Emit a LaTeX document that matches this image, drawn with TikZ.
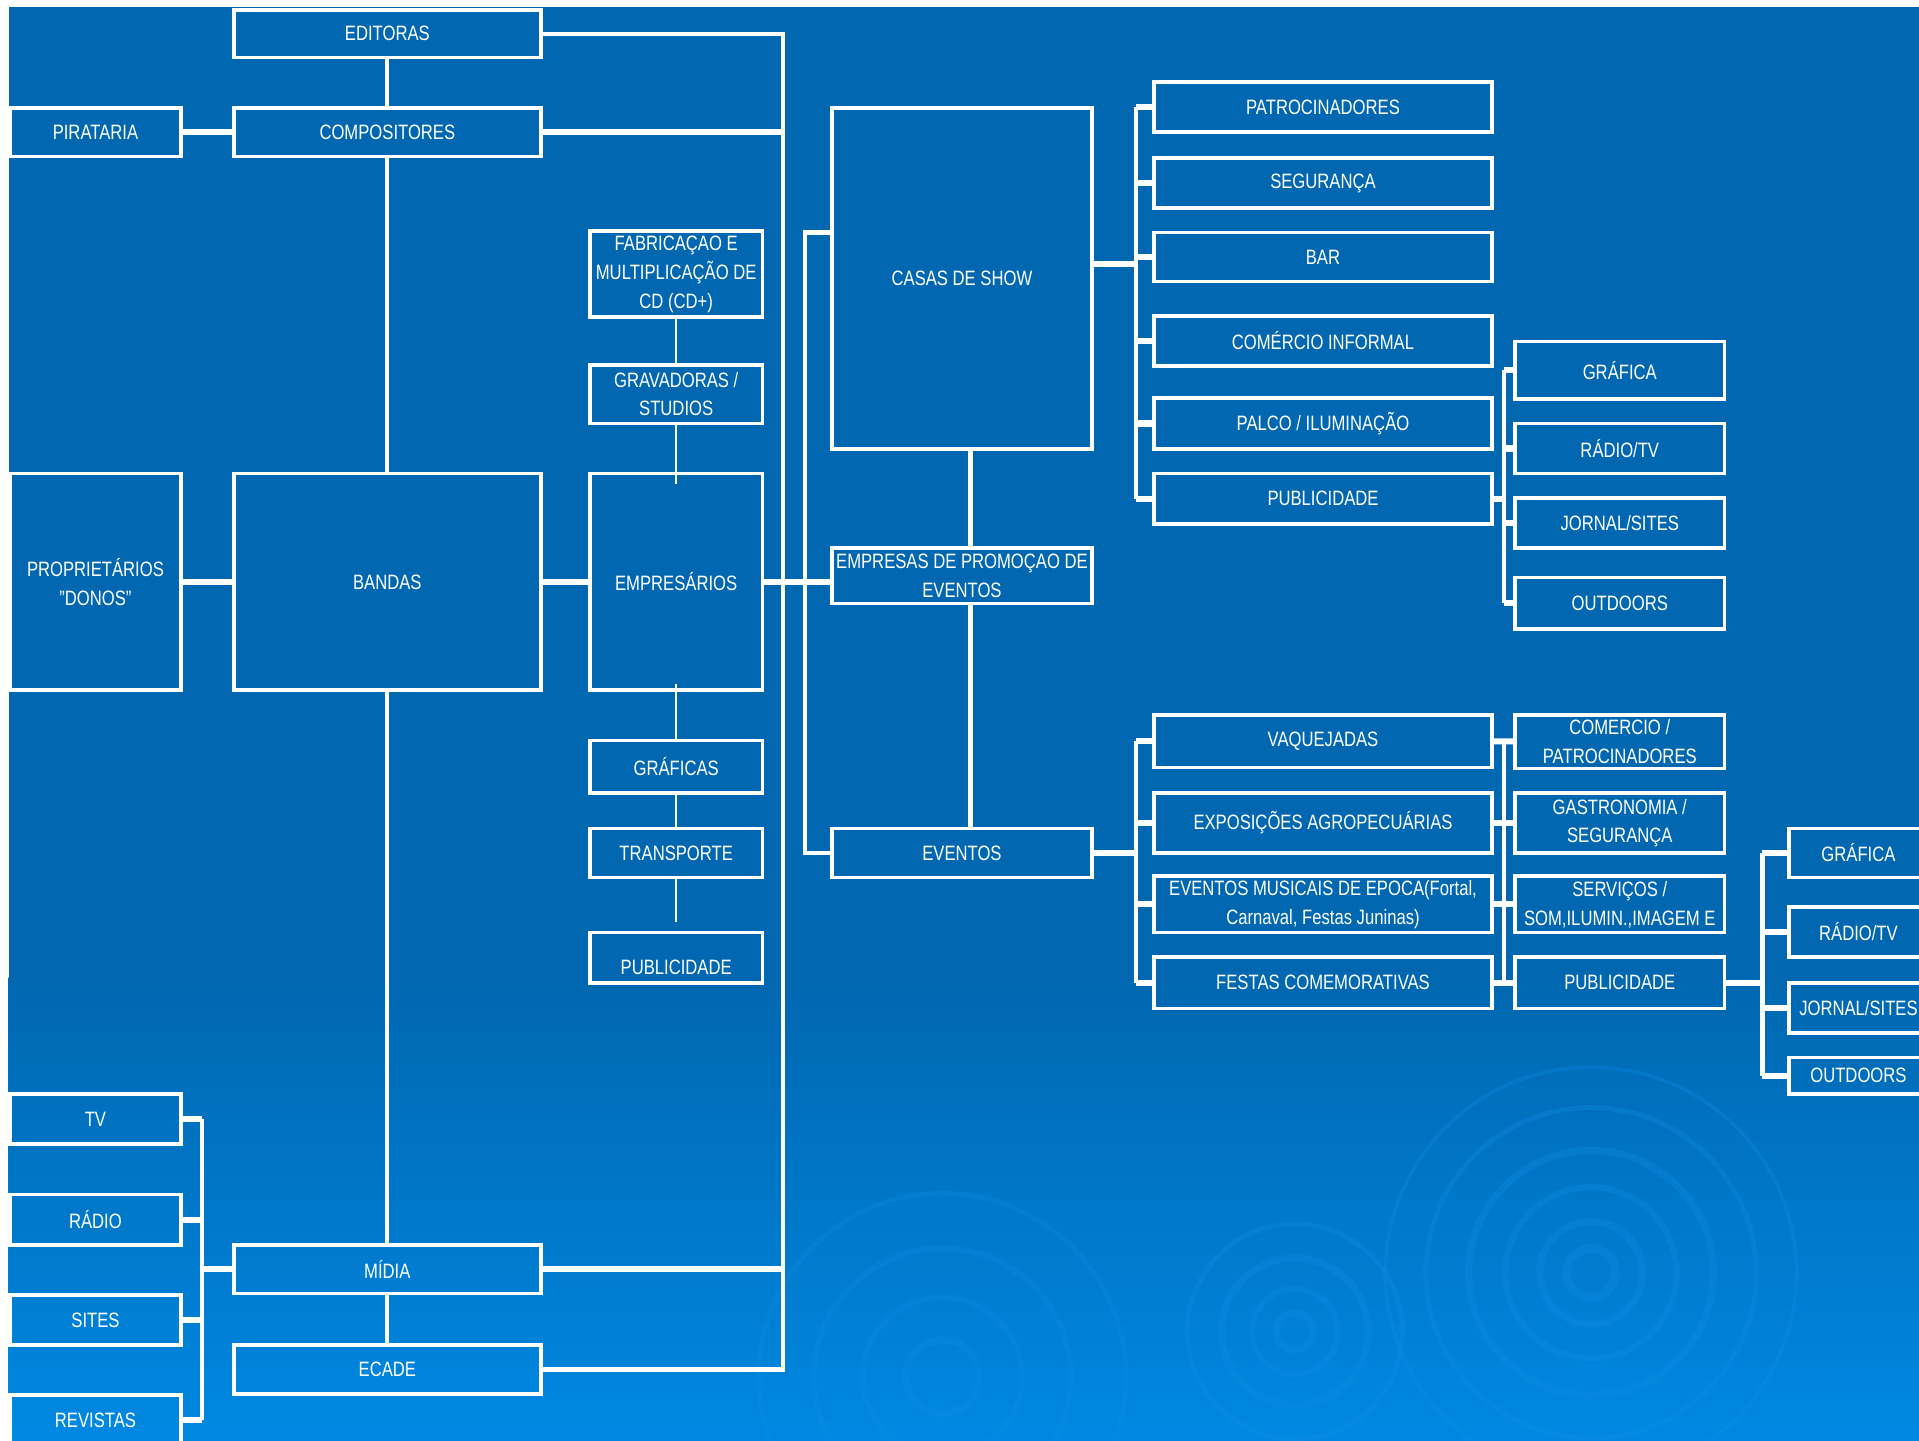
\documentclass[tikz,border=0pt]{standalone}
\usepackage{fontspec}
\setmainfont[FakeStretch=0.8]{Liberation Sans}
\usetikzlibrary{positioning,calc}
\definecolor{fundo}{RGB}{0,103,176}
\definecolor{fundoclaro}{RGB}{0,136,226}
\definecolor{onda}{RGB}{18,142,232}
\tikzset{
  caixa/.style={draw=white, line width=3pt, inner sep=0pt, align=center,
    text=white, font=\fontsize{17}{23.5}\selectfont},
  tam/.style 2 args={minimum width=#1pt, minimum height=#2pt},
  liga/.style={white, line width=3.5pt},
  ligah/.style={white, line width=5pt},
  fina/.style={white, line width=1.8pt},
}
\begin{document}
\begin{tikzpicture}[x=1pt,y=-1pt]
%
% fundo
\useasboundingbox (0,0) rectangle (1568,1177);
\fill[white] (0,0) rectangle (1568,1177);
\fill[fundo] (7,6) rectangle (1568,800);
\shade[top color=fundo, bottom color=fundoclaro] (7,799) rectangle (1568,1177);
\foreach \r/\w in {20/7,42/6,70/5,100/6,135/4,168/3}
  \draw[onda, line width=\w pt, opacity=0.3] (1300,1040) circle (\r);
\foreach \r/\w in {15/6,35/5,60/6,88/4}
  \draw[onda, line width=\w pt, opacity=0.3] (1058,1088) circle (\r);
\foreach \r/\w in {30/6,65/5,105/5,150/4}
  \draw[onda, line width=\w pt, opacity=0.25] (770,1125) circle (\r);
%
% coluna da esquerda
\node[caixa,tam={140}{40}] (pirataria) at (78,108) {PIRATARIA};
\node[caixa,tam={140}{177}] (donos) at (78,475.5) {PROPRIETÁRIOS\\"DONOS"};
\node[caixa,tam={140}{41}] (tv) at (78,914.5) {TV};
\node[caixa,tam={140}{41}] (radio) at (78,996.5) {RÁDIO};
\node[caixa,tam={140}{41}] (sites) at (78,1078.5) {SITES};
\node[caixa,tam={140}{41}] (revistas) at (78,1160.5) {REVISTAS};
%
\node[caixa,tam={251}{39}] (editoras) at (316.5,27.5) {EDITORAS};
\node[caixa,tam={251}{40}] (compositores) at (316.5,108) {COMPOSITORES};
\node[caixa,tam={251}{177}] (bandas) at (316.5,475.5) {BANDAS};
\node[caixa,tam={251}{40}] (midia) at (316.5,1037) {MÍDIA};
\node[caixa,tam={251}{40}] (ecade) at (316.5,1119) {ECADE};
%
\node[caixa,tam={141}{70}] (fabricacao) at (552.5,224) {FABRICAÇAO E\\MULTIPLICAÇÃO DE\\CD (CD+)};
\node[caixa,tam={141}{48}] (gravadoras) at (552.5,322) {GRAVADORAS /\\STUDIOS};
\node[caixa,tam={141}{177}] (empresarios) at (552.5,475.5) {EMPRESÁRIOS};
\node[caixa,tam={141}{43}] (graficas) at (552.5,626.5) {GRÁFICAS};
\node[caixa,tam={141}{40}] (transporte) at (552.5,697) {TRANSPORTE};
\node[caixa,tam={141}{41}] (publicidadea) at (552.5,782.5) {\raisebox{-13.5pt}[0pt][0pt]{PUBLICIDADE}};
%
% meio
\node[caixa,tam={212}{279}] (casas) at (786,227.5) {CASAS DE SHOW};
\node[caixa,tam={212}{45}] (empresas) at (786,470.5) {EMPRESAS DE PROMOÇAO DE\\EVENTOS};
\node[caixa,tam={212}{40}] (eventos) at (786,697) {EVENTOS};
%
% casas de show
\node[caixa,tam={276}{41}] (patrocinadores) at (1081,87.5) {PATROCINADORES};
\node[caixa,tam={276}{41}] (seguranca) at (1081,149.5) {SEGURANÇA};
\node[caixa,tam={276}{40}] (bar) at (1081,210) {BAR};
\node[caixa,tam={276}{41}] (comercio) at (1081,278.5) {COMÉRCIO INFORMAL};
\node[caixa,tam={276}{42}] (palco) at (1081,346) {PALCO / ILUMINAÇÃO};
\node[caixa,tam={276}{41}] (publicidadeb) at (1081,407.5) {PUBLICIDADE};
%
\node[caixa,tam={171}{47}] (graficaa) at (1323.5,302.5) {GRÁFICA};
\node[caixa,tam={171}{41}] (radiotva) at (1323.5,366.5) {RÁDIO/TV};
\node[caixa,tam={171}{41}] (jornala) at (1323.5,427.5) {JORNAL/SITES};
\node[caixa,tam={171}{42}] (outdoorsa) at (1323.5,493) {OUTDOORS};
%
% eventos
\node[caixa,tam={276}{43}] (vaquejadas) at (1081,605.5) {VAQUEJADAS};
\node[caixa,tam={276}{49}] (exposicoes) at (1081,672.5) {EXPOSIÇÕES AGROPECUÁRIAS};
\node[caixa,tam={276}{46}] (musicais) at (1081,739) {EVENTOS MUSICAIS DE EPOCA(Fortal,\\Carnaval, Festas Juninas)};
\node[caixa,tam={276}{42}] (festas) at (1081,803) {FESTAS COMEMORATIVAS};
%
\node[caixa,tam={171}{44}] (comerciob) at (1323.5,606) {COMERCIO /\\PATROCINADORES};
\node[caixa,tam={171}{49}] (gastronomia) at (1323.5,672.5) {GASTRONOMIA /\\SEGURANÇA};
\node[caixa,tam={171}{46}] (servicos) at (1323.5,739) {SERVIÇOS /\\SOM,ILUMIN.,IMAGEM E};
\node[caixa,tam={171}{42}] (publicidadec) at (1323.5,803) {PUBLICIDADE};
%
\node[caixa,tam={113}{40}] (graficab) at (1518.5,697) {GRÁFICA};
\node[caixa,tam={113}{41}] (radiotvb) at (1518.5,761.5) {RÁDIO/TV};
\node[caixa,tam={113}{41}] (jornalb) at (1518.5,823.5) {JORNAL/SITES};
\node[caixa,tam={113}{30}] (outdoorsb) at (1518.5,879) {OUTDOORS};
%
% barras
\coordinate (barra) at (640,0);
\coordinate (barrab) at (658,190);
\coordinate (barrac) at (928,0);
\coordinate (barrad) at (1229,0);
\coordinate (barrae) at (1440,0);
\coordinate (barraf) at (165,0);
%
% ligacoes da esquerda
\draw[liga] (editoras) to (compositores);
\draw[liga] (compositores) to (bandas);
\draw[liga] (bandas) to (midia);
\draw[liga] (midia) to (ecade);
\draw[ligah] (pirataria) to (compositores);
\draw[ligah] (donos) to (bandas);
\draw[ligah] (bandas) to (empresarios);
\draw[liga] (editoras.east) -| (barra |- ecade.east) -- (ecade.east);
\draw[ligah] (compositores.east) -- (compositores.east -| barra);
\draw[ligah] (midia.east) -- (midia.east -| barra);
%
\draw[liga] (tv.east -| barraf) -- (revistas.east -| barraf);
\foreach \n in {tv,radio,sites,revistas}
  \draw[ligah] (\n.east) -- (\n.east -| barraf);
\draw[ligah] (midia.west) -- (midia.west -| barraf);
%
\draw[fina] (fabricacao) to (gravadoras);
\draw[fina] (gravadoras.south) -- ([yshift=-10pt]empresarios.north);
\draw[fina] ([yshift=7pt]empresarios.south) -- (graficas.north);
\draw[fina] (graficas) to (transporte);
\draw[fina] (transporte.south) -- ([yshift=7pt]publicidadea.north);
%
% ligacoes do meio
\draw[ligah] (empresarios.east) -- (empresarios.east -| empresas.west);
\draw[liga] (barrab -| casas.west) -- (barrab) |- (eventos.west);
\draw[liga] ([xshift=7pt]casas.south) -- ([xshift=7pt]casas.south |- empresas.north);
\draw[liga] ([xshift=7pt]empresas.south) -- ([xshift=7pt]empresas.south |- eventos.north);
%
% casas de show
\draw[liga] (patrocinadores.west -| barrac) -- (publicidadeb.west -| barrac);
\foreach \n in {patrocinadores,seguranca,bar,comercio,palco,publicidadeb}
  \draw[ligah] (\n.west) -- (\n.west -| barrac);
\draw[ligah] ([yshift=-6pt]casas.east |- bar.west) -- ([yshift=-6pt]bar.west -| barrac);
%
\draw[liga] (graficaa.west -| barrad) -- (outdoorsa.west -| barrad);
\foreach \n in {graficaa,radiotva,jornala,outdoorsa}
  \draw[ligah] (\n.west) -- (\n.west -| barrad);
\draw[ligah] (publicidadeb.east) -- (publicidadeb.east -| barrad);
%
% eventos
\draw[liga] (vaquejadas.west -| barrac) -- (festas.west -| barrac);
\foreach \n in {vaquejadas,exposicoes,musicais,festas}
  \draw[ligah] (\n.west) -- (\n.west -| barrac);
\draw[ligah] (eventos.east) -- (eventos.east -| barrac);
%
\draw[liga] (vaquejadas.east -| barrad) -- (festas.east -| barrad);
\foreach \a/\b in {vaquejadas/comerciob,exposicoes/gastronomia,musicais/servicos,festas/publicidadec}
  \draw[ligah] (\a) to (\b);
%
\draw[liga] (graficab.west -| barrae) -- (outdoorsb.west -| barrae);
\foreach \n in {graficab,radiotvb,jornalb,outdoorsb}
  \draw[ligah] (\n.west) -- (\n.west -| barrae);
\draw[ligah] (publicidadec.east) -- (publicidadec.east -| barrae);
%
\end{tikzpicture}
\end{document}
